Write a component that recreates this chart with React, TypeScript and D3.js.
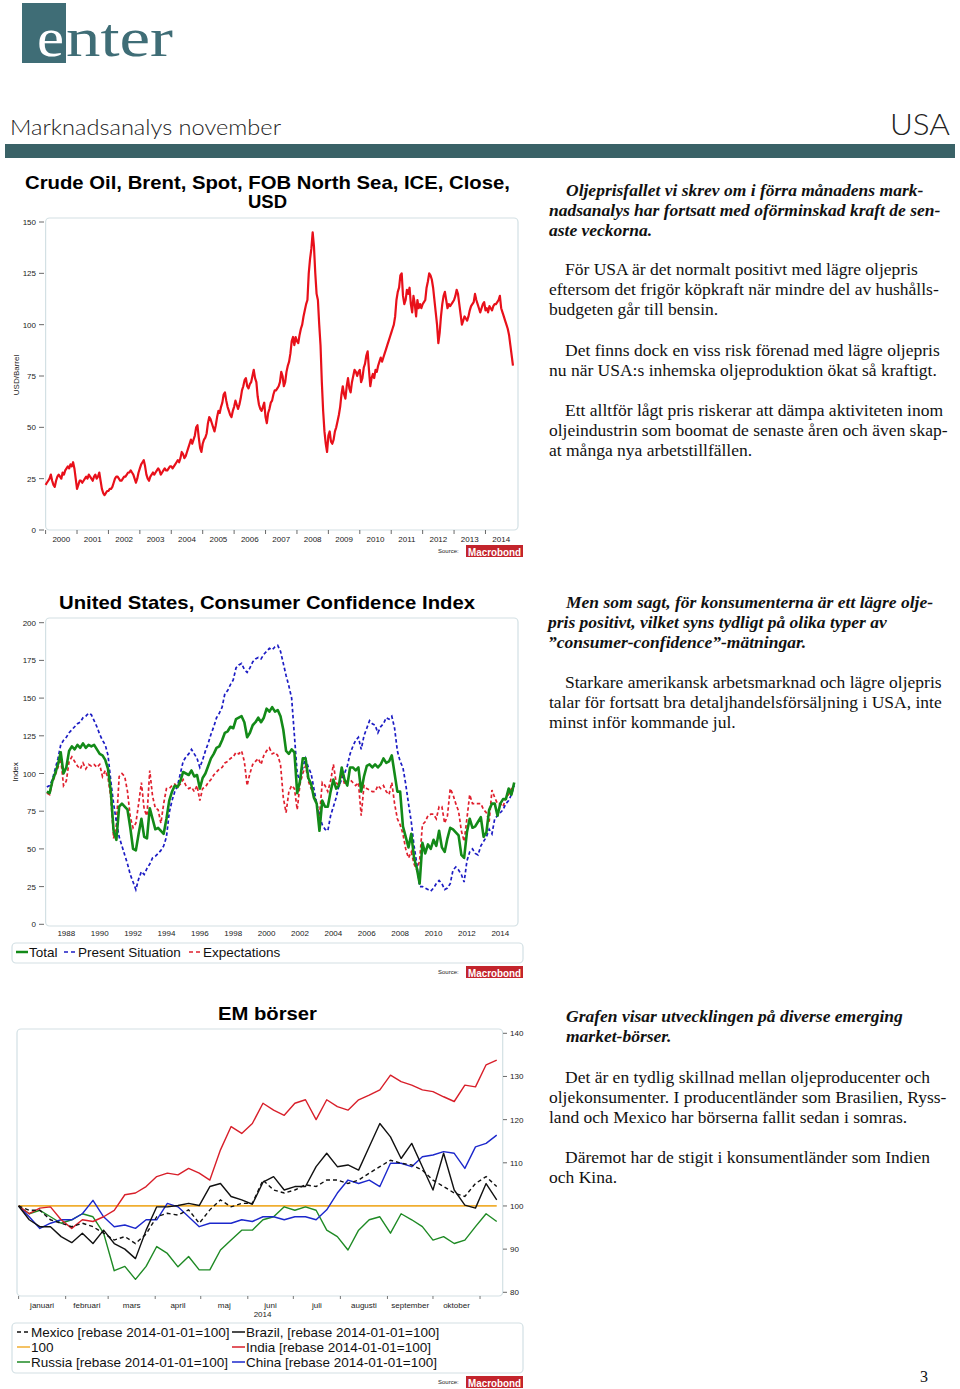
import React from "react";
import * as d3 from "d3";

// ---------------- Chart 1: Brent crude, semi-monthly, USD/barrel ----------------
const brentStart = 2000;
const brentPerYear = 24;
const brent = [
  22, 23, 24, 25, 27, 24, 22, 21, 24, 26, 27, 26, 25, 28, 27, 29, 30, 31, 30, 32, 31, 33, 30, 25,
  20, 22, 24, 24, 23, 24, 25, 26, 25, 27, 26, 25, 24, 26, 27, 25, 26, 28, 24, 20, 18, 17, 18, 19,
  19, 20, 20, 21, 23, 25, 26, 26, 25, 24, 24, 25, 26, 26, 27, 28, 28, 29, 28, 27, 25, 23, 25, 28,
  30, 32, 33, 34, 31, 27, 25, 24, 26, 27, 28, 27, 28, 29, 30, 29, 27, 28, 29, 30, 29, 29, 30, 31,
  31, 30, 31, 32, 33, 34, 33, 35, 38, 37, 35, 36, 38, 40, 42, 44, 42, 44, 46, 50, 51, 45, 40, 38,
  42, 44, 45, 47, 52, 55, 54, 52, 50, 48, 51, 55, 58, 57, 60, 62, 66, 67, 63, 60, 58, 56, 55, 58,
  60, 63, 61, 59, 61, 64, 68, 70, 73, 74, 70, 69, 71, 72, 75, 78, 74, 72, 65, 61, 59, 58, 60, 62,
  55, 52, 57, 59, 62, 63, 66, 68, 68, 69, 70, 72, 77, 75, 70, 72, 77, 80, 82, 86, 92, 94, 90, 94,
  92, 91, 95, 98, 100, 104, 107, 110, 112, 125, 132, 137, 145, 138, 125, 115, 112, 100, 90, 72, 58, 48, 42, 38,
  46, 48, 43, 42, 44, 48, 50, 53, 56, 60, 66, 70, 66, 64, 70, 74, 69, 67, 72, 75, 78, 77, 75, 77,
  78, 72, 74, 79, 81, 85, 87, 78, 70, 74, 76, 74, 78, 77, 80, 82, 84, 82, 84, 86, 88, 90, 92, 94,
  96, 98, 100, 104, 112, 116, 118, 124, 125, 114, 110, 112, 117, 115, 118, 110, 106, 114, 110, 104, 112, 108, 110, 108,
  110, 111, 112, 118, 121, 125, 124, 122, 118, 112, 106, 100, 91, 96, 104, 110, 114, 116, 112, 108, 110, 109, 110, 111,
  112, 114, 117, 115, 110, 105, 100, 102, 104, 103, 102, 104, 107, 109, 110, 111, 115, 112, 110, 108, 106, 108, 110, 111,
  107, 108, 106, 109, 108, 107, 109, 110, 110, 111, 112, 114, 108, 106, 104, 102, 100, 98, 95, 90, 85, 80,
];
const oilYTicks = [0, 25, 50, 75, 100, 125, 150];
const oilYears = [2000, 2001, 2002, 2003, 2004, 2005, 2006, 2007, 2008, 2009, 2010, 2011, 2012, 2013, 2014];

// ---------------- Chart 2: US Consumer Confidence, bi-monthly from Nov 1986 ----------------
const ccStart = 1986 + 10 / 12;
const ccPerYear = 6;
const ccTotal = [
  88,
  87, 95, 100, 106, 114, 100,
  104, 115, 118, 116, 119, 117,
  120, 117, 119, 118, 119, 116,
  113, 112, 109, 103, 88, 62,
  56, 78, 80, 78, 76, 64,
  50, 49, 60, 70, 58, 57,
  77, 70, 63, 64, 62, 60,
  70, 82, 88, 92, 91, 95,
  101, 100, 99, 102, 98, 99,
  90, 97, 100, 105, 110, 113,
  117, 118, 122, 127, 128, 131,
  130, 136, 137, 138, 134, 124,
  127, 132, 134, 137, 134, 137,
  143, 141, 144, 141, 142, 138,
  129, 115, 113, 116, 114, 87,
  95, 110, 110, 97, 93, 84,
  80, 62, 82, 78, 78, 88,
  96, 90, 92, 104, 96, 92,
  104, 104, 102, 104, 88, 98,
  105, 106, 104, 106, 104, 106,
  110, 107, 108, 112, 100, 88,
  88, 65, 58, 51, 60, 44,
  37, 27, 54, 47, 53, 50,
  56, 52, 62, 51, 48, 57,
  64, 63, 61, 59, 46, 44,
  61, 70, 64, 65, 68, 71,
  58, 61, 76, 80, 80, 72,
  80, 83, 83, 90, 86, 94,
];
const ccPresent = [
  91,
  92, 96, 103, 110, 119, 122,
  124, 127, 129, 131, 133, 134,
  137, 138, 140, 139, 135, 131,
  126, 122, 119, 112, 95, 80,
  68, 58, 52, 46, 40, 33,
  28, 23, 30, 35, 33, 37,
  40, 44, 45, 47, 49, 52,
  58, 74, 82, 88, 92, 100,
  108, 111, 113, 116, 113, 110,
  104, 109, 115, 120, 126, 131,
  137, 140, 144, 153, 155, 159,
  162, 170, 172, 173, 169, 167,
  170, 174, 176, 177, 176, 179,
  181, 183, 182, 184, 185, 181,
  173, 165, 158, 150, 125, 100,
  95, 104, 110, 104, 100, 90,
  80, 72, 66, 63, 62, 72,
  78, 84, 92, 96, 100, 105,
  113, 118, 122, 124, 116, 125,
  130, 135, 133, 132, 127, 131,
  133, 137, 136, 138, 130, 115,
  108, 104, 93, 80, 68, 52,
  40, 25, 25, 24, 23, 22,
  24, 27, 29, 27, 23, 24,
  27, 36, 38, 36, 33, 28,
  42, 48, 50, 47, 46, 52,
  55, 58, 63, 60, 70, 72,
  74, 76, 80, 82, 86, 92,
];
const ccExpect = [
  87,
  86, 94, 99, 104, 110, 92,
  95, 108, 111, 108, 105, 103,
  107, 103, 106, 105, 106, 104,
  106, 98, 102, 97, 84, 57,
  66, 98, 100, 98, 88, 71,
  64, 67, 80, 94, 76, 72,
  102, 85, 77, 76, 67, 80,
  90, 90, 92, 93, 91, 93,
  96, 92, 90, 91, 88, 92,
  82, 90, 91, 94, 96, 99,
  101, 103, 104, 107, 108, 110,
  111, 114, 113, 115, 108, 92,
  100, 106, 108, 110, 106, 112,
  115, 117, 113, 114, 112, 106,
  84, 74, 88, 92, 90, 76,
  93, 100, 105, 95, 90, 86,
  80, 72, 94, 92, 88, 95,
  106, 94, 92, 100, 93, 95,
  96, 94, 92, 94, 72, 92,
  90, 89, 88, 88, 92, 90,
  92, 88, 86, 94, 80, 70,
  66, 60, 50, 44, 48, 40,
  36, 42, 66, 68, 72, 73,
  73, 70, 78, 78, 67, 72,
  90, 86, 80, 75, 62, 55,
  70, 86, 80, 80, 80, 80,
  76, 74, 68, 89, 84, 80,
  80, 78, 84, 86, 90, 89,
];
const ccYTicks = [0, 25, 50, 75, 100, 125, 150, 175, 200];
const ccYearLabels = [1988, 1990, 1992, 1994, 1996, 1998, 2000, 2002, 2004, 2006, 2008, 2010, 2012, 2014];

// ---------------- Chart 3: EM stock markets 2014, weekly, rebased 100 ----------------
const emStepDays = 7;
const emMexico = [
  100, 99, 99, 96.8, 96, 95.2, 96, 95.2, 93.7, 92.1, 92.9, 91.3, 93.5, 97.5, 98.3, 97.9,
  99.1, 96, 99.1, 101.4, 99.8, 100.6, 100.6, 106, 103.7, 103, 103.7, 104.9, 104.5, 106,
  106, 105.2, 106, 107.6, 109.1, 110.6, 109.9, 109.5, 108.3, 106, 104.5, 103, 102.2, 105.2, 106.8, 104.5,
];
const emBrazil = [
  100, 96.8, 95.2, 95.2, 92.9, 91.5, 93.7, 91.3, 94.4, 91.3, 90, 87.8, 94.4, 99.8, 99.8, 100.1,
  100.6, 100.1, 104.5, 105.2, 102.2, 101.4, 100.4, 105.5, 106.8, 103.7, 104.5, 104.5, 109.1, 112.2,
  109.1, 109.5, 108.3, 113.7, 119.1, 116, 111, 114.5, 109.1, 103.7, 112.2, 103.7, 100.2, 99.5, 105.2, 101.4,
];
const emIndia = [
  100, 98.2, 99.5, 99.8, 96.8, 94.8, 96.8, 96.4, 97.5, 99, 102.6, 103, 104.5, 106.8, 107.6, 107.2,
  108.7, 107.6, 106, 113, 118.4, 116.8, 119.1, 123.8, 122.2, 121, 123.8, 124.6, 120, 124.6,
  123, 122.2, 124.6, 125.7, 126.9, 130.3, 128.8, 128, 126.9, 126.5, 125.3, 124.2, 128, 127.6, 132.7, 133.8,
];
const emRussia = [
  100, 98.2, 99, 97.5, 96, 96.8, 98.2, 97.5, 93.7, 85, 86, 83, 86, 90.6, 89, 85.9,
  88.3, 85.2, 85.2, 89.8, 92.1, 94.4, 94.4, 96.8, 97.5, 99.8, 99, 99.8, 99, 94.4,
  92.9, 89.8, 94.4, 96.8, 97.5, 93.7, 98.2, 96.8, 95.2, 92.1, 92.9, 91.3, 92.1, 95.2, 98.2, 96.4,
];
const emChina = [
  100, 97.5, 94.8, 96, 96.8, 96.8, 98.2, 101.3, 97.5, 95.2, 95.6, 94.8, 96.8, 96.8, 100.6, 99.8,
  97.5, 95.2, 96, 96, 96, 96.8, 96.4, 97.5, 97.5, 96.8, 97.5, 97.5, 96.8, 99.1,
  103, 106, 105.2, 106, 104.5, 109.9, 109.9, 109.1, 111.4, 111.8, 112.6, 112.2, 108.7, 113.7, 114.5, 116.4,
];
const emBase = 100;
const emYTicks = [80, 90, 100, 110, 120, 130, 140];
const emMonths = ["januari", "februari", "mars", "april", "maj", "juni", "juli", "augusti", "september", "oktober"];
const emMonthStarts = [0, 31, 59, 90, 120, 151, 181, 212, 243, 273, 304];

// ---------------- Text ----------------
const para1 = [
  { t: "Oljeprisfallet vi skrev om i förra månadens mark-", x: 566, y: 196, b: true },
  { t: "nadsanalys har fortsatt med oförminskad kraft de sen-", x: 549, y: 216, b: true },
  { t: "aste veckorna.", x: 549, y: 236, b: true },
  { t: "För USA är det normalt positivt med lägre oljepris", x: 565, y: 275 },
  { t: "eftersom det frigör köpkraft när mindre del av hushålls-", x: 549, y: 295 },
  { t: "budgeten går till bensin.", x: 549, y: 315 },
  { t: "Det finns dock en viss risk förenad med lägre oljepris", x: 565, y: 356 },
  { t: "nu när USA:s inhemska oljeproduktion ökat så kraftigt.", x: 549, y: 376 },
  { t: "Ett alltför lågt pris riskerar att dämpa aktiviteten inom", x: 565, y: 416 },
  { t: "oljeindustrin som boomat de senaste åren och även skap-", x: 549, y: 436 },
  { t: "at många nya arbetstillfällen.", x: 549, y: 456 },
];
const para2 = [
  { t: "Men som sagt, för konsumenterna är ett lägre olje-", x: 566, y: 608, b: true },
  { t: "pris positivt, vilket syns tydligt på olika typer av", x: 548, y: 628, b: true },
  { t: "”consumer-confidence”-mätningar.", x: 548, y: 648, b: true },
  { t: "Starkare amerikansk arbetsmarknad och lägre oljepris", x: 565, y: 688 },
  { t: "talar för fortsatt bra detaljhandelsförsäljning i USA, inte", x: 549, y: 708 },
  { t: "minst inför kommande jul.", x: 549, y: 728 },
];
const para3 = [
  { t: "Grafen visar utvecklingen på diverse emerging", x: 566, y: 1022, b: true },
  { t: "market-börser.", x: 566, y: 1042, b: true },
  { t: "Det är en tydlig skillnad mellan oljeproducenter och", x: 565, y: 1083 },
  { t: "oljekonsumenter. I producentländer som Brasilien, Ryss-", x: 549, y: 1103 },
  { t: "land och Mexico har börserna fallit sedan i somras.", x: 549, y: 1123 },
  { t: "Däremot har de stigit i konsumentländer som Indien", x: 565, y: 1163 },
  { t: "och Kina.", x: 549, y: 1183 },
];

const SANS = "'Liberation Sans', Arial, Helvetica, sans-serif";
const SERIF = "'Liberation Serif', 'Times New Roman', serif";
const TEAL = "#3f6d76";
const BAR = "#3a6267";
const FRAME = "#d3e0e4";

function Para({ lines }: { lines: { t: string; x: number; y: number; b?: boolean }[] }) {
  return (
    <g fontFamily={SERIF} fontSize={17.5} fill="#111">
      {lines.map((l, i) => (
        <text key={i} x={l.x} y={l.y} fontWeight={l.b ? "bold" : "normal"} fontStyle={l.b ? "italic" : "normal"}>
          {l.t}
        </text>
      ))}
    </g>
  );
}

function Source({ y }: { y: number }) {
  return (
    <g>
      <text x={438} y={y + 8} fontFamily={SANS} fontSize={6} fill="#222">Source:</text>
      <rect x={466} y={y} width={57} height={12} fill="#c3242c" />
      <text
        x={468}
        y={y + 10.5}
        fontFamily="'Liberation Sans Narrow', 'Arial Narrow', 'Liberation Sans', sans-serif"
        fontWeight="bold"
        fontSize={11.5}
        fill="#fff"
        textLength={53}
        lengthAdjust="spacingAndGlyphs"
      >
        Macrobond
      </text>
    </g>
  );
}

export default function App() {
  // Chart 1 scales
  const x1 = d3.scaleLinear().domain([2000, 2015]).range([45.6, 516.9]);
  const y1 = d3.scaleLinear().domain([0, 150]).range([530, 222]);
  const oilLine = d3
    .line<number>()
    .x((_, i) => x1(brentStart + i / brentPerYear))
    .y((d) => y1(d));

  // Chart 2 scales
  const x2 = d3.scaleLinear().domain([1988, 2014]).range([66.3, 500.3]);
  const y2 = d3.scaleLinear().domain([0, 200]).range([924.3, 622.7]);
  const ccLine = d3
    .line<number>()
    .x((_, i) => x2(ccStart + i / ccPerYear))
    .y((d) => y2(d));

  // Chart 3 scales
  const x3 = d3.scaleLinear().domain([0, 319]).range([18.6, 502.8]);
  const y3 = d3.scaleLinear().domain([80, 140]).range([1292.3, 1033.3]);
  const emLine = d3
    .line<number>()
    .x((_, i) => x3(i * emStepDays))
    .y((d) => y3(d));
  const emLastDay = (emIndia.length - 1) * emStepDays;

  return (
    <svg
      width={960}
      height={1389}
      viewBox="0 0 960 1389"
      style={{ position: "absolute", left: 0, top: 0, background: "#fff" }}
    >
      {/* Header */}
      <rect x={22} y={3} width={44} height={60} fill={TEAL} />
      <text x={37} y={55.5} fontFamily={SERIF} fontSize={54} fill="#fff" textLength={27} lengthAdjust="spacingAndGlyphs">e</text>
      <text x={66} y={55.5} fontFamily={SERIF} fontSize={54} fill={TEAL} textLength={107} lengthAdjust="spacingAndGlyphs">nter</text>
      <text x={10} y={135} fontFamily={"Lato, 'Liberation Sans', sans-serif"} fontWeight={300} fontSize={21} fill="#222" textLength={271} lengthAdjust="spacingAndGlyphs">
        Marknadsanalys november
      </text>
      <text x={890} y={135} fontFamily={"Lato, 'Liberation Sans', sans-serif"} fontWeight={300} fontSize={29} fill="#222" textLength={60} lengthAdjust="spacingAndGlyphs">
        USA
      </text>
      <rect x={5} y={144} width={950} height={14} fill={BAR} />

      {/* ---------- Chart 1 ---------- */}
      <text x={267.5} y={189} textAnchor="middle" fontFamily={SANS} fontWeight="bold" fontSize={18.5} fill="#000" textLength={485} lengthAdjust="spacingAndGlyphs">
        Crude Oil, Brent, Spot, FOB North Sea, ICE, Close,
      </text>
      <text x={267.5} y={208} textAnchor="middle" fontFamily={SANS} fontWeight="bold" fontSize={18.5} fill="#000">
        USD
      </text>
      <rect x={45.6} y={218} width={472.4} height={312} rx={4} fill="none" stroke={FRAME} strokeWidth={1.2} />
      <g fontFamily={SANS} fontSize={8} fill="#222">
        {oilYTicks.map((v) => (
          <g key={v}>
            <line x1={39} x2={44} y1={y1(v)} y2={y1(v)} stroke="#444" strokeWidth={0.8} />
            <text x={36} y={y1(v) + 3} textAnchor="end">{v}</text>
          </g>
        ))}
        {oilYears.map((yr) => (
          <g key={yr}>
            <line x1={x1(yr)} x2={x1(yr)} y1={530} y2={534} stroke="#444" strokeWidth={0.8} />
            <text x={x1(yr + 0.5)} y={541.5} textAnchor="middle">{yr}</text>
          </g>
        ))}
        <text transform={`translate(19,375) rotate(-90)`} textAnchor="middle">USD/Barrel</text>
      </g>
      <path d={oilLine(brent) || ""} fill="none" stroke="#e8101a" strokeWidth={2.2} strokeLinejoin="round" />
      <Source y={545} />

      {/* ---------- Chart 2 ---------- */}
      <text x={267} y={609} textAnchor="middle" fontFamily={SANS} fontWeight="bold" fontSize={18.5} fill="#000" textLength={416} lengthAdjust="spacingAndGlyphs">
        United States, Consumer Confidence Index
      </text>
      <rect x={45.6} y={618} width={472.4} height={308} rx={4} fill="none" stroke={FRAME} strokeWidth={1.2} />
      <g fontFamily={SANS} fontSize={8} fill="#222">
        {ccYTicks.map((v) => (
          <g key={v}>
            <line x1={39} x2={44} y1={y2(v)} y2={y2(v)} stroke="#444" strokeWidth={0.8} />
            <text x={36} y={y2(v) + 3} textAnchor="end">{v}</text>
          </g>
        ))}
        {ccYearLabels.map((yr) => (
          <text key={yr} x={x2(yr)} y={936} textAnchor="middle">{yr}</text>
        ))}
        <text transform={`translate(18,772) rotate(-90)`} textAnchor="middle">Index</text>
      </g>
      <path d={ccLine(ccExpect) || ""} fill="none" stroke="#e0202e" strokeWidth={1.7} strokeDasharray="3.5,2.5" />
      <path d={ccLine(ccPresent) || ""} fill="none" stroke="#1c1cc4" strokeWidth={1.7} strokeDasharray="3.5,2.5" />
      <path d={ccLine(ccTotal) || ""} fill="none" stroke="#138a18" strokeWidth={2.6} strokeLinejoin="round" />
      <rect x={12} y={943} width={511} height={20} rx={4} fill="none" stroke={FRAME} strokeWidth={1.2} />
      <g fontFamily={SANS} fontSize={13.5} fill="#111">
        <line x1={16} x2={28} y1={952} y2={952} stroke="#138a18" strokeWidth={2.5} />
        <text x={29} y={957}>Total</text>
        <line x1={64} x2={77} y1={952} y2={952} stroke="#1c1cc4" strokeWidth={1.7} strokeDasharray="4,3" />
        <text x={78} y={957}>Present Situation</text>
        <line x1={189} x2={202} y1={952} y2={952} stroke="#e0202e" strokeWidth={1.7} strokeDasharray="4,3" />
        <text x={203} y={957}>Expectations</text>
      </g>
      <Source y={966} />

      {/* ---------- Chart 3 ---------- */}
      <text x={267.5} y={1020} textAnchor="middle" fontFamily={SANS} fontWeight="bold" fontSize={18.5} fill="#000" textLength={99} lengthAdjust="spacingAndGlyphs">
        EM börser
      </text>
      <rect x={17} y={1029} width={485.7} height={267} rx={4} fill="none" stroke={FRAME} strokeWidth={1.2} />
      <g fontFamily={SANS} fontSize={8} fill="#222">
        {emYTicks.map((v) => (
          <g key={v}>
            <line x1={503} x2={507} y1={y3(v)} y2={y3(v)} stroke="#444" strokeWidth={0.8} />
            <text x={510} y={y3(v) + 3}>{v}</text>
          </g>
        ))}
        {emMonthStarts.map((d) => (
          <line key={d} x1={x3(d)} x2={x3(d)} y1={1296} y2={1299} stroke="#555" strokeWidth={0.8} />
        ))}
        {emMonths.map((m, i) => (
          <text key={m} x={x3((emMonthStarts[i] + emMonthStarts[i + 1]) / 2)} y={1307.5} textAnchor="middle">{m}</text>
        ))}
        <text x={x3((emMonthStarts[5] + emMonthStarts[6]) / 2) - 8} y={1316.5} textAnchor="middle">2014</text>
      </g>
      <line x1={x3(0)} x2={x3(emLastDay)} y1={y3(emBase)} y2={y3(emBase)} stroke="#f0ae30" strokeWidth={1.8} />
      <path d={emLine(emRussia) || ""} fill="none" stroke="#1e8a24" strokeWidth={1.4} strokeLinejoin="round" />
      <path d={emLine(emChina) || ""} fill="none" stroke="#1c28cc" strokeWidth={1.4} strokeLinejoin="round" />
      <path d={emLine(emIndia) || ""} fill="none" stroke="#d81f2a" strokeWidth={1.4} strokeLinejoin="round" />
      <path d={emLine(emMexico) || ""} fill="none" stroke="#111" strokeWidth={1.4} strokeDasharray="4,3" />
      <path d={emLine(emBrazil) || ""} fill="none" stroke="#111" strokeWidth={1.4} strokeLinejoin="round" />
      <rect x={12} y={1323} width={511} height={50} rx={4} fill="none" stroke={FRAME} strokeWidth={1.2} />
      <g fontFamily={SANS} fontSize={13.5} fill="#111">
        <line x1={17} x2={30} y1={1332} y2={1332} stroke="#111" strokeWidth={1.5} strokeDasharray="4,3" />
        <text x={31} y={1337}>Mexico [rebase 2014-01-01=100]</text>
        <line x1={232} x2={245} y1={1332} y2={1332} stroke="#111" strokeWidth={1.5} />
        <text x={246} y={1337}>Brazil, [rebase 2014-01-01=100]</text>
        <line x1={17} x2={30} y1={1347} y2={1347} stroke="#f0ae30" strokeWidth={1.5} />
        <text x={31} y={1352}>100</text>
        <line x1={232} x2={245} y1={1347} y2={1347} stroke="#d81f2a" strokeWidth={1.5} />
        <text x={246} y={1352}>India [rebase 2014-01-01=100]</text>
        <line x1={17} x2={30} y1={1362} y2={1362} stroke="#1e8a24" strokeWidth={1.5} />
        <text x={31} y={1367}>Russia [rebase 2014-01-01=100]</text>
        <line x1={232} x2={245} y1={1362} y2={1362} stroke="#1c28cc" strokeWidth={1.5} />
        <text x={246} y={1367}>China [rebase 2014-01-01=100]</text>
      </g>
      <Source y={1376} />

      {/* Right column text */}
      <Para lines={para1} />
      <Para lines={para2} />
      <Para lines={para3} />

      <text x={920} y={1382} fontFamily={SERIF} fontSize={16} fill="#111">3</text>
    </svg>
  );
}
